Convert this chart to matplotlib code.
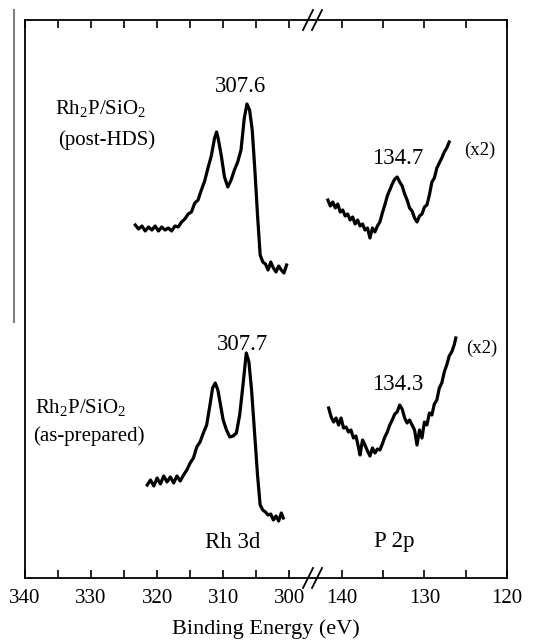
import matplotlib
matplotlib.use("Agg")
import matplotlib.pyplot as plt
import numpy as np
from matplotlib.lines import Line2D

plt.rcParams['font.family'] = ['Liberation Serif', 'DejaVu Serif']
plt.rcParams['mathtext.fontset'] = 'custom'
plt.rcParams['mathtext.rm'] = 'Liberation Serif'

# Rh 3d region, post-HDS (binding energy eV, intensity a.u.)
rh_post_be = [323.3, 322.8, 322.3, 321.8, 321.3, 320.8, 320.3, 319.8, 319.3, 318.8,
              318.3, 317.8, 317.3, 316.8, 316.3, 315.8, 315.3, 314.8, 314.3, 313.8,
              313.3, 312.8, 312.3, 311.8, 311.3, 311.0, 310.8, 310.3, 309.8, 309.3,
              308.8, 308.3, 307.8, 307.3, 306.8, 306.4, 306.0, 305.6, 305.2, 304.8,
              304.4, 304.0, 303.6, 303.2, 302.8, 302.4, 302.0, 301.6, 301.2, 300.8, 300.4]
rh_post_int = [353, 349, 352, 347, 351, 348, 352, 347, 351, 348,
               350, 347, 352, 351, 356, 359, 364, 366, 375, 378,
               388, 397, 410, 422, 440, 446, 441, 423, 401, 391,
               398, 408, 416, 428, 460, 474, 468, 448, 408, 363,
               323, 316, 314, 308, 316, 310, 306, 312, 308, 305, 313]

# Rh 3d region, as-prepared
rh_prep_be = [321.5, 321.0, 320.5, 320.0, 319.5, 319.0, 318.5, 318.0, 317.5, 317.0,
              316.5, 316.0, 315.5, 315.0, 314.5, 314.0, 313.5, 313.0, 312.5, 312.0,
              311.6, 311.2, 310.8, 310.4, 310.0, 309.5, 309.0, 308.5, 308.0, 307.5,
              307.0, 306.5, 306.1, 305.7, 305.2, 304.8, 304.4, 304.0, 303.6, 303.2,
              302.8, 302.4, 302.0, 301.6, 301.2, 300.9]
rh_prep_int = [93, 98, 92, 100, 94, 102, 96, 101, 95, 102,
               97, 103, 108, 115, 120, 131, 136, 145, 153, 173,
               190, 195, 188, 173, 158, 148, 141, 142, 145, 163,
               193, 225, 216, 188, 141, 103, 73, 68, 66, 63,
               64, 58, 62, 57, 65, 60]

# P 2p region, post-HDS (x2)
p_post_be = [141.7, 141.4, 141.1, 140.8, 140.5, 140.2, 139.9, 139.6, 139.3, 139.0,
             138.7, 138.4, 138.1, 137.8, 137.5, 137.2, 136.9, 136.6, 136.3, 136.0,
             135.7, 135.4, 135.1, 134.8, 134.5, 134.2, 133.9, 133.6, 133.3, 133.0,
             132.7, 132.4, 132.1, 131.8, 131.5, 131.2, 130.9, 130.6, 130.3, 130.0,
             129.7, 129.4, 129.1, 128.8, 128.5, 128.2, 127.9, 127.6, 127.3, 127.0]
p_post_int = [378, 372, 376, 370, 374, 366, 368, 362, 364, 358,
              361, 354, 358, 352, 354, 348, 350, 340, 350, 346,
              352, 356, 365, 373, 382, 388, 394, 399, 401, 396,
              392, 384, 378, 370, 367, 360, 356, 362, 364, 371,
              373, 383, 396, 400, 410, 415, 420, 426, 430, 436]

# P 2p region, as-prepared (x2)
p_prep_be = [141.6, 141.3, 141.0, 140.7, 140.4, 140.1, 139.8, 139.5, 139.2, 138.9,
             138.6, 138.3, 138.0, 137.8, 137.5, 137.2, 136.9, 136.6, 136.3, 136.0,
             135.7, 135.4, 135.1, 134.8, 134.5, 134.2, 133.9, 133.6, 133.3, 133.0,
             132.7, 132.4, 132.1, 131.8, 131.5, 131.2, 130.9, 130.6, 130.3, 130.0,
             129.7, 129.4, 129.1, 128.8, 128.5, 128.2, 127.9, 127.6, 127.3, 127.0,
             126.7, 126.4, 126.2]
p_prep_int = [170, 161, 156, 160, 153, 160, 150, 151, 146, 148,
              140, 142, 131, 123, 138, 133, 127, 122, 130, 125,
              129, 128, 134, 141, 146, 153, 158, 164, 166, 173,
              169, 160, 155, 158, 153, 148, 133, 148, 140, 156,
              153, 165, 163, 174, 178, 190, 195, 206, 213, 222,
              226, 233, 240]

left_ticks = [340, 330, 320, 310, 300]
right_ticks = [140, 130, 120]

fig = plt.figure(figsize=(5.39, 6.42), dpi=100)
W, H = 539, 642
x0, xb, x1 = 25, 313, 507
ybot, ytop = 578, 20
ax1 = fig.add_axes([x0 / W, (H - ybot) / H, (xb - x0) / W, (ybot - ytop) / H])
ax2 = fig.add_axes([xb / W, (H - ybot) / H, (x1 - xb) / W, (ybot - ytop) / H])

lw = 2.3
ax1.plot(rh_post_be, rh_post_int, color='black', lw=lw)
ax1.plot(rh_prep_be, rh_prep_int, color='black', lw=lw)
ax2.plot(p_post_be, p_post_int, color='black', lw=lw)
ax2.plot(p_prep_be, p_prep_int, color='black', lw=lw)

ax1.set_xlim(340, 296.4)
ax2.set_xlim(143.5, 120)
for ax in (ax1, ax2):
    ax.set_ylim(0, 558)
    ax.set_yticks([])
    ax.tick_params(axis='x', direction='in', top=True, bottom=True, length=6,
                   width=1.2, labelsize=15, pad=8)
    ax.tick_params(axis='x', which='minor', direction='in', top=True, bottom=True,
                   length=6, width=1.2)
    for s in ax.spines.values():
        s.set_linewidth(1.3)
ax1.set_xticks(left_ticks)
ax1.set_xticks(np.arange(335, 296, -10), minor=True)
ax2.set_xticks(right_ticks)
ax2.set_xticks([135, 125], minor=True)
ax1.spines['right'].set_visible(False)
ax2.spines['left'].set_visible(False)

fig.text((x0 + x1) / 2 / W, 1 - 629 / H, 'Binding Energy (eV)', ha='center', va='center',
         fontsize=16)

# break marks
for yy in (ytop, ybot):
    for dx in (-5, 4):
        fig.add_artist(Line2D([(xb + dx - 5) / W, (xb + dx + 5) / W],
                              [1 - (yy + 10) / H, 1 - (yy - 10) / H],
                              color='black', lw=1.3))

# grey stray line at left
fig.add_artist(Line2D([14 / W, 14 / W], [1 - 10 / H, 1 - 322 / H], color='#808080', lw=1.5))

fs = 15
big = 16.5
ax1.text(335.5, 469, r'Rh$_\mathregular{2}$P/SiO$_\mathregular{2}$', fontsize=fs, va='center')
ax1.text(335.0, 438, '(post-HDS)', fontsize=fs, va='center')
ax1.text(338.5, 170, r'Rh$_\mathregular{2}$P/SiO$_\mathregular{2}$', fontsize=fs, va='center')
ax1.text(338.8, 142, '(as-prepared)', fontsize=fs, va='center')
ax1.text(307.4, 492, '307.6', fontsize=big, ha='center', va='center')
ax1.text(307.1, 233, '307.7', fontsize=big, ha='center', va='center')
ax1.text(308.6, 36, 'Rh 3d', fontsize=big, ha='center', va='center')
ax2.text(133.3, 420, '134.7', fontsize=big, ha='center', va='center')
ax2.text(133.3, 193, '134.3', fontsize=big, ha='center', va='center')
ax2.text(123.3, 428, '(x2)', fontsize=13.5, ha='center', va='center')
ax2.text(123.0, 230, '(x2)', fontsize=13.5, ha='center', va='center')
ax2.text(133.6, 36, 'P 2p', fontsize=big, ha='center', va='center')

fig.savefig('out.png', dpi=100)
